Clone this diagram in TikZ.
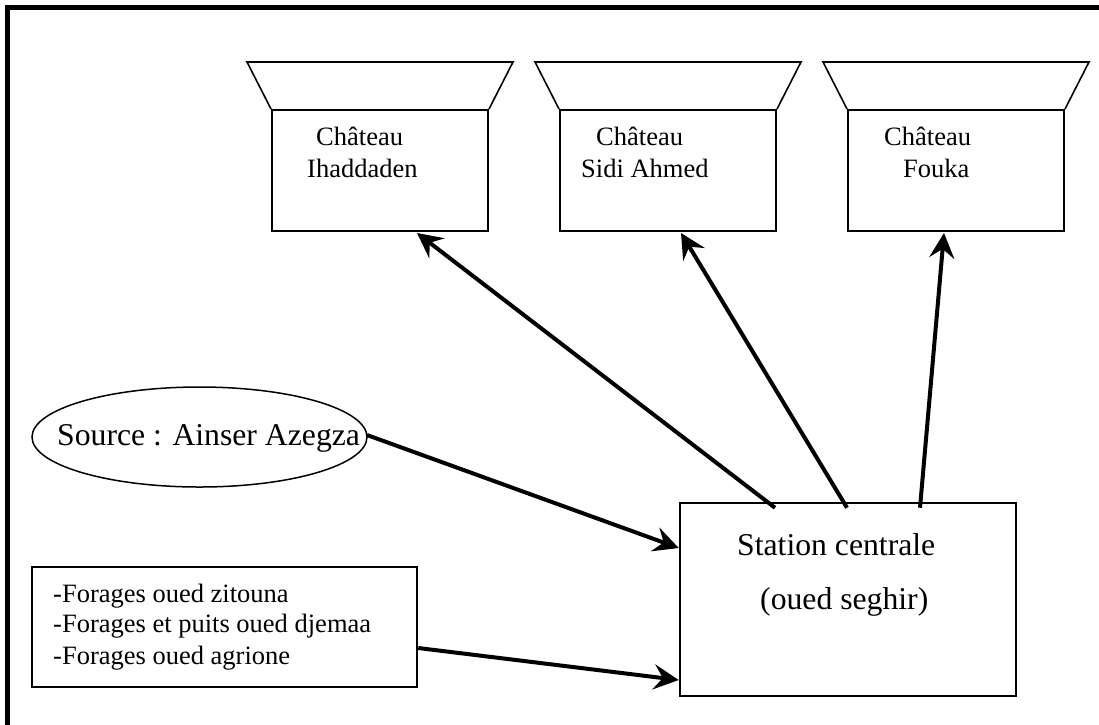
\documentclass[tikz,border=0pt]{standalone}
\usepackage{fontspec}
\setmainfont{Liberation Serif}
\usetikzlibrary{arrows.meta,calc,shapes.geometric}
\tikzset{
  small/.style={font=\fontsize{26.5}{32}\selectfont, inner sep=0pt, anchor=base west},
  big/.style={font=\fontsize{31.7}{38}\selectfont, inner sep=0pt, anchor=base west},
  chbox/.style={draw, line width=2pt, minimum width=216pt, minimum height=121pt, inner sep=0pt},
  roof/.style={draw, line width=1.6pt, line join=miter},
  flow/.style={line width=4pt, -{Stealth[length=25pt,width=25pt,inset=9pt]}},
  frame/.style={line width=4.6pt}
}
\begin{document}
\begin{tikzpicture}[x=1pt,y=-1pt]
\useasboundingbox (0,0) rectangle (1099,724);
% outer frame (top and left)
\draw[frame] (7.5,730) -- (7.5,7.5) -- (1105,7.5);

% chateaux
\node[chbox] (ch1) at (380,170.5) {};
\node[chbox] (ch2) at (668,170.5) {};
\node[chbox] (ch3) at (956,170.5) {};
\foreach \c in {ch1,ch2,ch3}{
  \draw[roof] (\c.north west) -- ++(-24,-47) -- ($(\c.north east)+(24,-47)$) -- (\c.north east);
}
\node[small] (t1a) at (316,145) {Château};
\node[small] (t1b) at (307,177) {Ihaddaden};
\node[small] (t2a) at (596,145) {Château};
\node[small] (t2b) at (581,177) {Sidi Ahmed};
\node[small] (t3a) at (884,145) {Château};
\node[small] (t3b) at (903,177) {Fouka};

% station
\node[draw, line width=2.5pt, minimum width=336pt, minimum height=193pt, inner sep=0pt] (st) at (848,599.5) {};
\node[big] (st1) at (737,555) {Station centrale};
\node[big] (st2) at (760,609) {(oued seghir)};

% source
\node[draw, ellipse, line width=1.5pt, minimum width=335pt, minimum height=100pt, inner sep=0pt] (src) at (199.5,437) {};
\node[big] (srct) at (57,445) {Source : Ainser Azegza};

% forages
\node[draw, line width=2.5pt, minimum width=385pt, minimum height=120pt, inner sep=0pt] (fo) at (224.5,627) {};
\node[small] (f1) at (53,602) {-Forages oued zitouna};
\node[small] (f2) at (53,632) {-Forages et puits oued djemaa};
\node[small] (f3) at (53,664) {-Forages oued agrione};

% connector end points
\coordinate (a1) at ($(st.north)+(-73,6)$);
\coordinate (a2) at ($(st.north)+(-1,6)$);
\coordinate (a3) at ($(st.north)+(72,6)$);
\coordinate (b1) at ($(ch1.south)+(37,1)$);
\coordinate (b2) at ($(ch2.south)+(13,1)$);
\coordinate (b3) at ($(ch3.south)+(-12,1)$);
\coordinate (s0) at (367,435);
\coordinate (s1) at (st.west |- 0,548);
\coordinate (f0) at (fo.east |- 0,648);
\coordinate (f9) at (st.west |- 0,680);

\draw[flow] (a1) -- (b1);
\draw[flow] (a2) -- (b2);
\draw[flow] (a3) -- (b3);
\draw[flow] (s0) -- (s1);
\draw[flow] (f0) -- (f9);
\end{tikzpicture}
\end{document}
